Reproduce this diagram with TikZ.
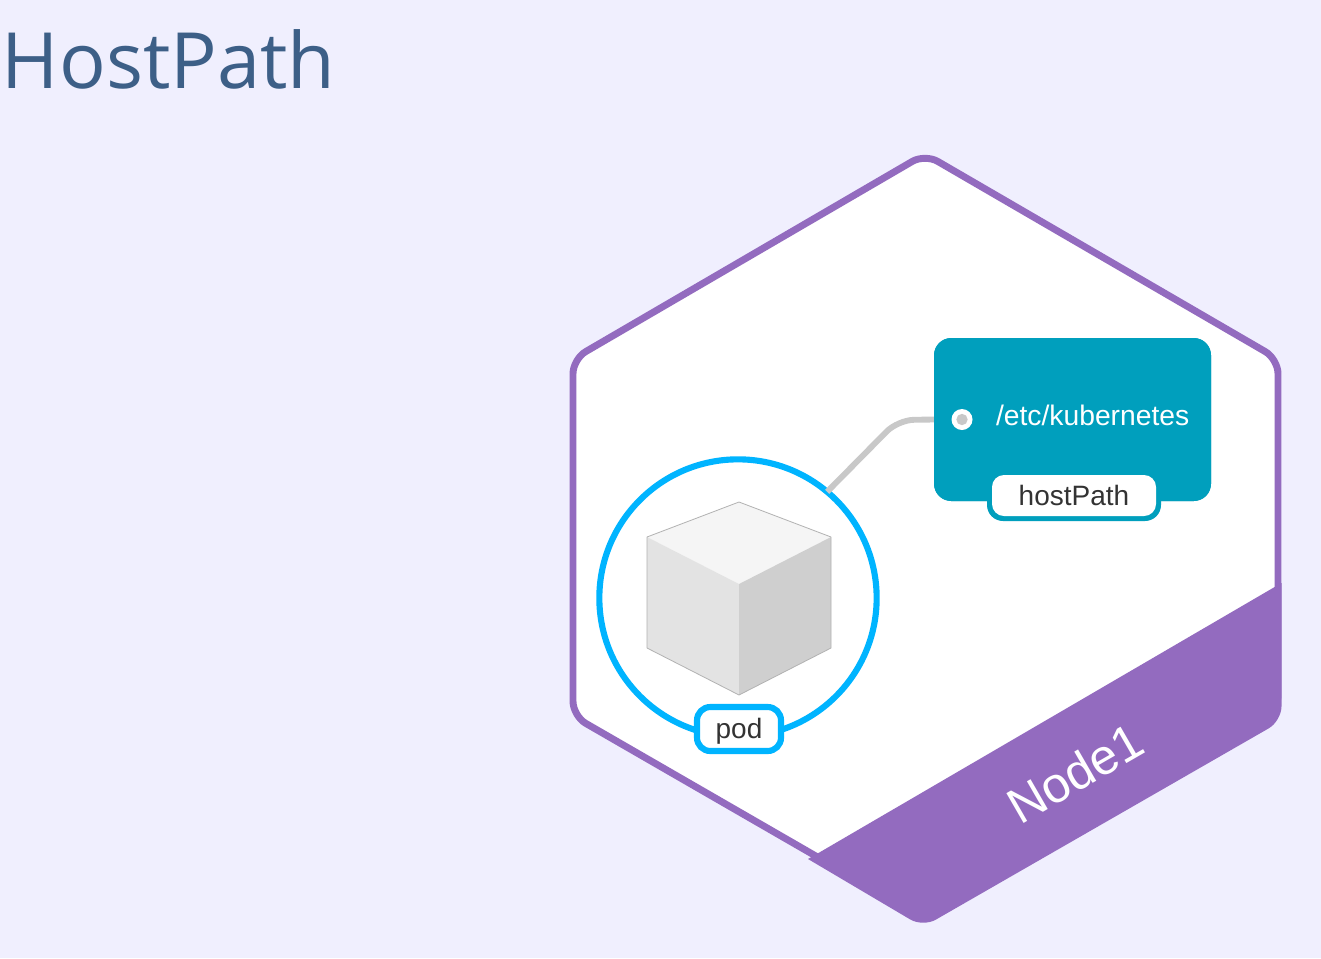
\documentclass[tikz,border=0pt]{standalone}
\usepackage{fontspec}
\setmainfont{Liberation Sans}
\newfontfamily\titlefont{Open Sans}
\usetikzlibrary{positioning}
\definecolor{pagebg}{HTML}{F0EFFE}
\definecolor{titleblue}{HTML}{3D5F87}
\definecolor{nodepurple}{HTML}{936BBF}
\definecolor{podblue}{HTML}{00B4FF}
\definecolor{volteal}{HTML}{009FBD}
\definecolor{linkgray}{HTML}{C8C8C8}
\definecolor{labeltext}{HTML}{333333}

\begin{document}
\begin{tikzpicture}[
    x=0.75pt, y=-0.75pt,
    every node/.style={inner sep=0pt, outer sep=0pt},
    hexline/.style={draw=nodepurple, line width=5.2pt, fill=white, rounded corners=11pt, line join=round},
    band/.style={fill=nodepurple},
    cubeface/.style={draw=none},
    cubeedge/.style={draw=black!30, line width=0.6pt, line join=round},
    podring/.style={circle, draw=podblue, line width=4.6pt, fill=white, minimum size=208pt},
    podtag/.style={rectangle, rounded corners=10pt, draw=podblue, line width=4.6pt, fill=white,
                   minimum width=63pt, minimum height=33pt, text height=14pt, text depth=0.5pt,
                   font=\fontsize{21}{25}\selectfont, text=labeltext},
    volbox/.style={rectangle, rounded corners=13pt, fill=volteal, minimum width=207.75pt, minimum height=122.25pt},
    tagback/.style={rectangle, rounded corners=12pt, fill=volteal, minimum width=130.5pt, minimum height=34.5pt},
    tagfront/.style={rectangle, rounded corners=9pt, fill=white, minimum width=123pt, minimum height=30.75pt,
                     font=\fontsize{21}{25}\selectfont, text=labeltext},
    link/.style={draw=linkgray, line width=4.4pt, rounded corners=12pt},
]

\fill[pagebg] (0,0) rectangle (1321,958);
\useasboundingbox (0,0) rectangle (1321,958);

\node[anchor=base west, text=titleblue, font=\titlefont\fontsize{58.2}{70}\selectfont] (title) at (2,88) {HostPath};

% node hexagon and its band
\draw[hexline] (925,154) -- (1278,359) -- (1278,710) -- (925,919) -- (573,716) -- (573,359) -- cycle;
\fill[band] (1281.5,583) [rounded corners=11pt] -- (1281.5,721) -- (923,927) [sharp corners] -- (808,859) -- (815,855) -- cycle;
\node[rotate=30, text=white, font=\fontsize{37.5}{45}\selectfont] (nodename) at (1075,773) {Node1};

% volume
\node[volbox] (volume) at (1072.5,419.5) {};
\node[podring] (podcircle) at (738,598) {};
\draw[link] (podcircle.50) -- (898,420) -- (volume.west);
\node[volbox] at (volume) {};
\node[tagback] (hosttagback) at (1074,498) {};
\node[tagfront] (hosttag) at (1074,495.5) {hostPath};
\node[circle, fill=white, minimum size=15.75pt] (volport) at (962,419.5) {};
\node[circle, fill=linkgray, minimum size=8.5pt] at (volport) {};
\node[anchor=base west, text=white, font=\fontsize{21.2}{25}\selectfont] (volpath) at (996,425) {/etc/kubernetes};

% pod cube
\fill[cubeface, fill=black!4] (739,502) -- (831,537) -- (739,584) -- (647,537) -- cycle;
\fill[cubeface, fill=black!11] (647,537) -- (739,584) -- (739,695) -- (647,648) -- cycle;
\fill[cubeface, fill=black!19] (831,537) -- (739,584) -- (739,695) -- (831,648) -- cycle;
\draw[cubeedge] (739,502) -- (831,537) -- (831,648) -- (739,695) -- (647,648) -- (647,537) -- cycle;
\node[podtag] (podname) at (739,729) {pod};

\end{tikzpicture}
\end{document}
